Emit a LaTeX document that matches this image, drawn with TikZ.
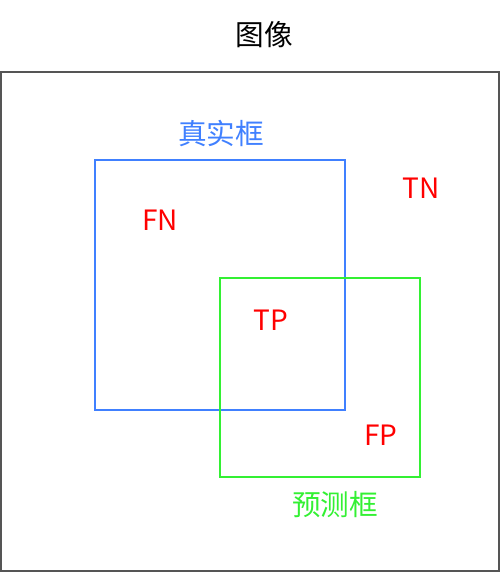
\documentclass[tikz,border=0pt]{standalone}
\usepackage{fontspec}
\setmainfont{Noto Sans CJK SC}
\definecolor{truebox}{RGB}{64,128,255}
\definecolor{predbox}{RGB}{51,240,51}
\definecolor{framegray}{RGB}{85,85,85}
\begin{document}
\begin{tikzpicture}[x=0.75pt,y=-0.75pt,
		lbl/.style={inner sep=0pt,font=\fontsize{21.5}{25}\selectfont},
		cell/.style={inner sep=0pt,text=red,font=\fontsize{21}{25}\selectfont}]
		\useasboundingbox (0,0) rectangle (500,572);

		% Рамка изображения
		\draw[framegray,line width=1.5pt] (1,72) rectangle (499,571);
		\node[lbl] (title) at (264,35) {图像};

		% Истинная рамка
		\draw[truebox,line width=1.5pt] (95,160) rectangle (345,410);
		\node[lbl,text=truebox] (gt) at (221,134) {真实框};

		% Предсказанная рамка
		\draw[predbox,line width=1.5pt] (220,278) rectangle (420,477);
		\node[lbl,text=predbox] (pred) at (335,505) {预测框};

		% Метки областей
		\node[cell] (fn) at (160,220) {FN};
		\node[cell] (tn) at (421,188) {TN};
		\node[cell] (tp) at (271,320) {TP};
		\node[cell] (fp) at (381,435) {FP};
	\end{tikzpicture}
\end{document}
